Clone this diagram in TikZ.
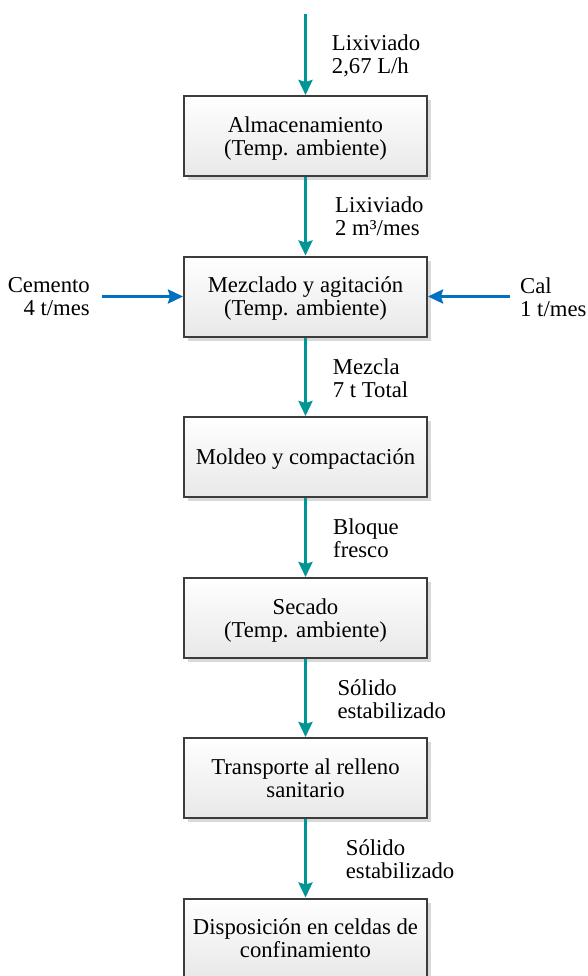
\documentclass[tikz,border=0pt]{standalone}
\usepackage{fontspec}
\setmainfont{Liberation Serif}
\usetikzlibrary{arrows.meta,shadows}
\definecolor{flowteal}{RGB}{0,150,150}
\definecolor{flowblue}{RGB}{0,112,192}
\definecolor{boxborder}{RGB}{60,60,60}
\tikzset{
  procbox/.style={draw=boxborder, line width=2pt, top color=white, bottom color=black!9,
    minimum width=243pt, minimum height=80pt, align=center, inner sep=0pt,
    text depth=-1.5pt,
    drop shadow={shadow xshift=4pt, shadow yshift=-4pt, fill=black!15, opacity=1}},
  mainflow/.style={draw=flowteal, line width=3pt, -{Stealth[length=15pt,width=14pt,inset=2pt]}},
  sideflow/.style={draw=flowblue, line width=3pt, -{Stealth[length=15pt,width=14pt,inset=2pt]}},
  lbl/.style={inner sep=0pt, align=left, anchor=west, yshift=-2pt},
}
\begin{document}
\begin{tikzpicture}[x=1pt,y=-1pt,font=\fontsize{22.7}{23}\selectfont]
\useasboundingbox[fill=white] (0,0) rectangle (588,976);
\node[procbox] (b1) at (305.5,136) {Almacenamiento\\(Temp. ambiente)};
\node[procbox] (b2) at (305.5,296.5) {Mezclado y agitación\\(Temp. ambiente)};
\node[procbox] (b3) at (305.5,457) {Moldeo y compactación};
\node[procbox] (b4) at (305.5,618) {Secado\\(Temp. ambiente)};
\node[procbox] (b5) at (305.5,778) {Transporte al relleno\\sanitario};
\node[procbox] (b6) at (305.5,938.5) {Disposición en celdas de\\confinamiento};
\coordinate (in) at (305.5,14);
\coordinate (cemstart) at (102,296.5);
\coordinate (calstart) at (510,296.5);
\draw[mainflow] (in) -- (b1.north);
\draw[mainflow] (b1.south) -- (b2.north);
\draw[mainflow] (b2.south) -- (b3.north);
\draw[mainflow] (b3.south) -- (b4.north);
\draw[mainflow] (b4.south) -- (b5.north);
\draw[mainflow] (b5.south) -- (b6.north);
\draw[sideflow] (cemstart) -- (b2.west);
\draw[sideflow] (calstart) -- (b2.east);
\node[lbl] (l1) at (331.7,54) {Lixiviado\\2,67 L/h};
\node[lbl] (l2) at (335,214.7) {Lixiviado\\2 m³/mes};
\node[lbl] (l3) at (332.7,375.8) {Mezcla\\7 t Total};
\node[lbl] (l4) at (333,535.8) {Bloque\\fresco};
\node[lbl] (l5) at (337.3,697) {Sólido\\estabilizado};
\node[lbl] (l6) at (345.7,857.5) {Sólido\\estabilizado};
\node[inner sep=0pt, align=right, anchor=east, yshift=-2pt] (lcem) at (90,295) {Cemento\\4 t/mes};
\node[lbl] (lcal) at (520,295) {Cal\\1 t/mes};
\end{tikzpicture}
\end{document}
